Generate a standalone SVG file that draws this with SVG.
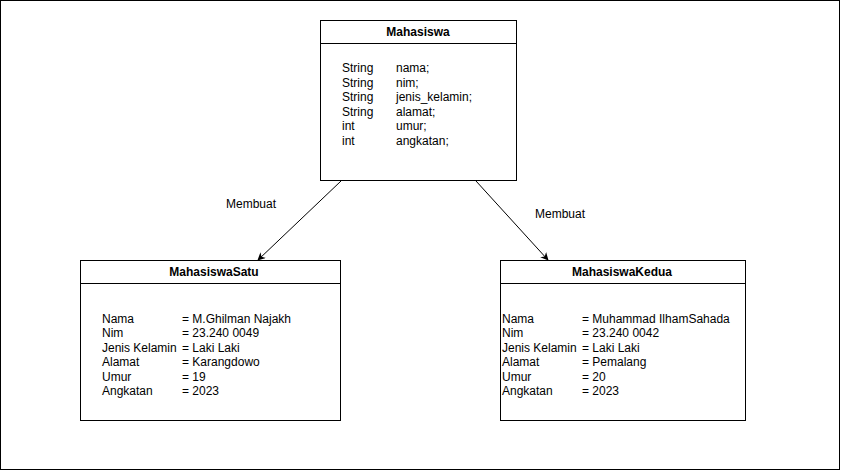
<svg xmlns="http://www.w3.org/2000/svg" width="841" height="471" viewBox="0 0 841 471">
<defs>
<style>
.box{fill:#fff;stroke:#000;stroke-width:1}
.t{font-family:"Liberation Sans",Arial,sans-serif;font-size:12px;fill:#000}
.b{font-weight:bold;text-anchor:middle}
.edge{stroke:#000;stroke-width:1;fill:none}
</style>
<marker id="arr" viewBox="0 0 10 10" refX="9" refY="5" markerWidth="8" markerHeight="8" markerUnits="userSpaceOnUse" orient="auto">
<path d="M0,0 L10,5 L0,10 L3,5 Z" fill="#000"/>
</marker>
</defs>
<rect x="0.5" y="0.5" width="839" height="469" fill="#fff" stroke="#000"/>
<g id="connectors">
<line class="edge" x1="341" y1="181" x2="258" y2="260" marker-end="url(#arr)"/>
<line class="edge" x1="476" y1="181" x2="548" y2="260" marker-end="url(#arr)"/>
<text class="t" x="226" y="208">Membuat</text>
<text class="t" x="535" y="218">Membuat</text>
</g>
<g id="mahasiswa">
<rect class="box" x="320.5" y="20.5" width="196" height="160"/>
<line class="edge" x1="320.5" y1="43.5" x2="516.5" y2="43.5"/>
<text class="t b" x="418" y="36">Mahasiswa</text>
<text class="t" x="342" y="72">String</text><text class="t" x="396" y="72">nama;</text>
<text class="t" x="342" y="87">String</text><text class="t" x="396" y="87">nim;</text>
<text class="t" x="342" y="101">String</text><text class="t" x="396" y="101">jenis_kelamin;</text>
<text class="t" x="342" y="116">String</text><text class="t" x="396" y="116">alamat;</text>
<text class="t" x="342" y="130">int</text><text class="t" x="396" y="130">umur;</text>
<text class="t" x="342" y="145">int</text><text class="t" x="396" y="145">angkatan;</text>
</g>
<g id="mahasiswaSatu">
<rect class="box" x="80.5" y="260.5" width="260" height="160"/>
<line class="edge" x1="80.5" y1="283.5" x2="340.5" y2="283.5"/>
<text class="t b" x="214" y="276">MahasiswaSatu</text>
<text class="t" x="102" y="323">Nama</text><text class="t" x="182" y="323">= M.Ghilman Najakh</text>
<text class="t" x="102" y="337">Nim</text><text class="t" x="182" y="337">= 23.240 0049</text>
<text class="t" x="102" y="352">Jenis Kelamin</text><text class="t" x="182" y="352">= Laki Laki</text>
<text class="t" x="102" y="366">Alamat</text><text class="t" x="182" y="366">= Karangdowo</text>
<text class="t" x="102" y="381">Umur</text><text class="t" x="182" y="381">= 19</text>
<text class="t" x="102" y="395">Angkatan</text><text class="t" x="182" y="395">= 2023</text>
</g>
<g id="mahasiswaKedua">
<rect class="box" x="500.5" y="260.5" width="245" height="160"/>
<line class="edge" x1="500.5" y1="283.5" x2="745.5" y2="283.5"/>
<text class="t b" x="622" y="276">MahasiswaKedua</text>
<text class="t" x="502" y="323">Nama</text><text class="t" x="582" y="323">= Muhammad IlhamSahada</text>
<text class="t" x="502" y="337">Nim</text><text class="t" x="582" y="337">= 23.240 0042</text>
<text class="t" x="502" y="352">Jenis Kelamin</text><text class="t" x="582" y="352">= Laki Laki</text>
<text class="t" x="502" y="366">Alamat</text><text class="t" x="582" y="366">= Pemalang</text>
<text class="t" x="502" y="381">Umur</text><text class="t" x="582" y="381">= 20</text>
<text class="t" x="502" y="395">Angkatan</text><text class="t" x="582" y="395">= 2023</text>
</g>
</svg>
